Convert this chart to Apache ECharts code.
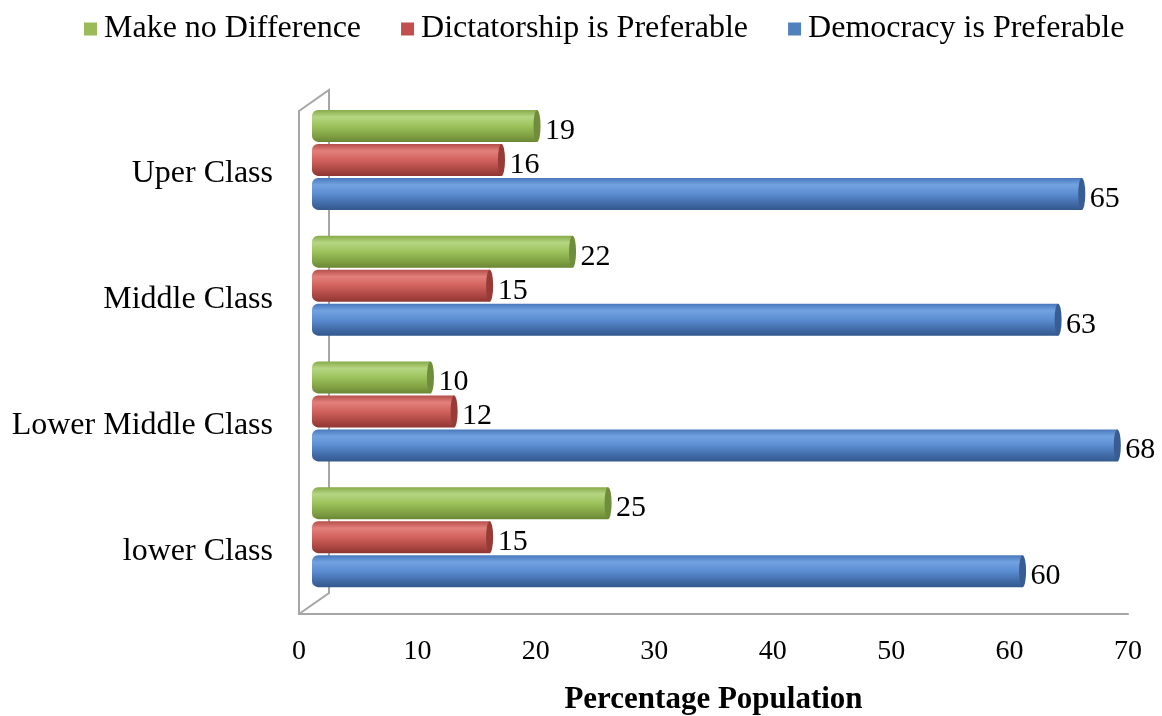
<!DOCTYPE html>
<html><head><meta charset="utf-8">
<script src="https://cdn.jsdelivr.net/npm/echarts@6/dist/echarts.min.js"></script>
<style>html,body{margin:0;padding:0;background:#fff}#c{width:1162px;height:716px}</style>
</head><body><div id="c"></div>
<script>
const categories = ['lower Class', 'Lower Middle Class', 'Middle Class', 'Uper Class'];
const seriesNames = ['Make no Difference', 'Dictatorship is Preferable', 'Democracy is Preferable'];
const makeNoDifference = [25, 10, 22, 19];
const dictatorship = [15, 12, 15, 16];
const democracy = [60, 68, 63, 65];
const xTicks = [0, 10, 20, 30, 40, 50, 60, 70];

const FONT = '"Liberation Serif", "Times New Roman", serif';
const chart = echarts.init(document.getElementById('c'));
const G = echarts.graphic.LinearGradient;
const styles = [
  { legend: '#9bbb59', cap: '#6f8d3a', stops: ['#86a948', '#b6d683', '#9cc35c', '#7f9f42', '#6a8734'] },
  { legend: '#c0504d', cap: '#973b37', stops: ['#b44d49', '#e3807b', '#d2625d', '#a94541', '#8f3632'] },
  { legend: '#4f81bd', cap: '#385d92', stops: ['#4878ba', '#72a2e0', '#5b8dd2', '#4069a5', '#33598d'] }
];
const BAR_W = 32, GAP = 2;
const offs = [-(BAR_W + GAP), 0, BAR_W + GAP];

function makeRender(si) {
  const st = styles[si];
  return function (params, api) {
    const v = api.value(0), c = api.value(1);
    const p0 = api.coord([0, c]);
    const p1 = api.coord([v, c]);
    const cy = p0[1] + offs[si];
    const y = cy - BAR_W / 2;
    const fill = new G(0, 0, 0, 1, [
      { offset: 0, color: st.stops[0] }, { offset: 0.22, color: st.stops[1] },
      { offset: 0.5, color: st.stops[2] }, { offset: 0.82, color: st.stops[3] },
      { offset: 1, color: st.stops[4] }]);
    return {
      type: 'group',
      children: [
        { type: 'rect', shape: { x: p0[0], y: y, width: p1[0] - p0[0], height: BAR_W, r: [6, 0, 0, 6] }, style: { fill: fill } },
        { type: 'circle', x: p1[0], y: cy, scaleX: 0.22, shape: { cx: 0, cy: 0, r: BAR_W / 2 }, style: { fill: st.cap } },
        { type: 'text', x: p1[0] + 8, y: cy + 5, style: { text: String(v), fill: '#000', font: '30px ' + FONT, verticalAlign: 'middle', align: 'left' } }
      ]
    };
  };
}

const dataSets = [makeNoDifference, dictatorship, democracy];
const series = dataSets.map((arr, si) => ({
  type: 'custom', name: seriesNames[si], xAxisIndex: 1, yAxisIndex: 1,
  itemStyle: { color: styles[si].legend },
  encode: { x: 0, y: 1 },
  renderItem: makeRender(si),
  data: arr.map((v, i) => [v, i]),
  z: 3
}));

const option = {
  animation: false,
  textStyle: { fontFamily: FONT },
  legend: {
    top: 8, left: 79, itemWidth: 13, itemHeight: 13, itemGap: 40, icon: 'rect',
    data: seriesNames,
    textStyle: { fontFamily: FONT, fontSize: 32, color: '#000', padding: [0, 0, 0, 2] }
  },
  grid: [
    { left: 299, right: 34, top: 111, bottom: 102, containLabel: false, outerBoundsMode: 'none' },
    { left: 312, right: 21, top: 97, bottom: 116, containLabel: false, outerBoundsMode: 'none' }
  ],
  xAxis: [
    { type: 'value', gridIndex: 0, min: 0, max: 70, interval: 10,
      axisLine: { show: true, lineStyle: { color: '#a6a6a6', width: 2 } },
      axisTick: { show: false }, splitLine: { show: false },
      axisLabel: { margin: 24, fontSize: 28, color: '#000', fontFamily: FONT },
      name: 'Percentage Population', nameLocation: 'middle', nameGap: 70,
      nameTextStyle: { fontSize: 31, fontWeight: 'bold', color: '#000', fontFamily: FONT } },
    { type: 'value', gridIndex: 1, min: 0, max: 70, show: false }
  ],
  yAxis: [
    { type: 'category', gridIndex: 0, data: categories,
      axisLine: { show: true, lineStyle: { color: '#a6a6a6', width: 2 } },
      axisTick: { show: false },
      axisLabel: { margin: 26, fontSize: 32, color: '#000', fontFamily: FONT } },
    { type: 'category', gridIndex: 1, data: categories, show: false }
  ],
  series: series
};
chart.setOption(option);

// 3D box frame (side wall edges)
const rect = chart.getModel().getComponent('grid', 0).coordinateSystem.getRect();
const dx = 30, dy = -21;
const x0 = rect.x, yTop = rect.y, yBot = rect.y + rect.height;
const lineStyle = { stroke: '#a6a6a6', lineWidth: 2 };
chart.setOption({
  graphic: [
    { type: 'polyline', z: 0, shape: { points: [[x0, yTop], [x0 + dx, yTop + dy], [x0 + dx, yBot + dy], [x0, yBot]] }, style: lineStyle }
  ]
});
</script></body></html>
